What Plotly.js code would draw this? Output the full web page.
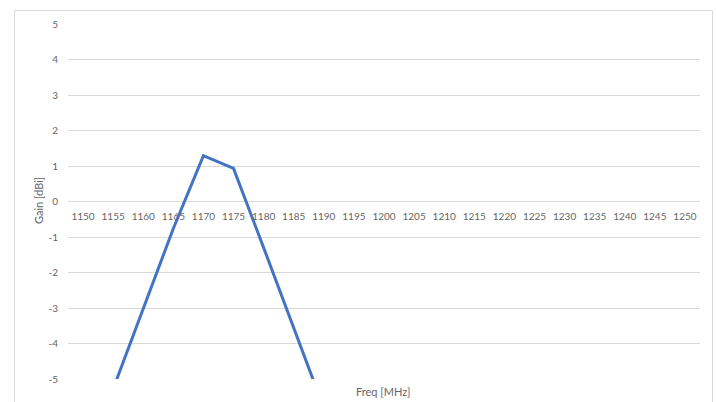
<!DOCTYPE html>
<html>
<head>
<meta charset="utf-8">
<script src="https://cdn.plot.ly/plotly-3.0.1.min.js"></script>
<style>
  html, body { margin: 0; padding: 0; background: #ffffff; }
  #chart { width: 717px; height: 402px; }
</style>
</head>
<body>
<div id="chart"></div>
<script>
// Category tick labels (MHz)
const tickFreqs = [1150, 1155, 1160, 1165, 1170, 1175, 1180, 1185, 1190, 1195, 1200,
                   1205, 1210, 1215, 1220, 1225, 1230, 1235, 1240, 1245, 1250];
// Series: gain [dBi] vs frequency
const freq = [1155, 1160, 1165, 1170, 1175, 1180, 1185, 1190];
const gain = [-5.28, -3.0, -0.76, 1.29, 0.93, -1.3, -3.56, -5.82];
const yTicks = [-5, -4, -3, -2, -1, 0, 1, 2, 3, 4, 5];

const W = 717, H = 402;
const L = 68, R = 17, T = 24, B = 23;
const pw = W - L - R, ph = H - T - B;

const fontFam = 'Lato, "Open Sans", "Liberation Sans", sans-serif';
const grey = '#666666';
const grid = '#d9d9d9';

const trace = {
  x: freq,
  y: gain,
  type: 'scatter',
  mode: 'lines',
  line: { color: '#4472C4', width: 3 },
  hoverinfo: 'x+y',
  showlegend: false
};

const layout = {
  width: W,
  height: H,
  margin: { l: L, r: R, t: T, b: B, pad: 0 },
  paper_bgcolor: '#ffffff',
  plot_bgcolor: '#ffffff',
  font: { family: fontFam, size: 10, color: grey },
  xaxis: {
    range: [1147.5, 1252.5],
    tickvals: tickFreqs,
    ticktext: tickFreqs.map(String),
    showgrid: false,
    zeroline: false,
    showline: false,
    ticks: '',
    anchor: 'free',
    position: 0.5,
    ticklabelstandoff: 7,
    tickfont: { family: fontFam, size: 10, color: grey },
    fixedrange: true
  },
  yaxis: {
    range: [-5, 5],
    tickvals: yTicks,
    ticktext: yTicks.map(String),
    showgrid: true,
    gridcolor: grid,
    gridwidth: 1,
    zeroline: false,
    showline: false,
    ticks: '',
    ticklabelstandoff: 9,
    tickfont: { family: fontFam, size: 10, color: grey },
    fixedrange: true
  },
  shapes: [{
    type: 'rect',
    xref: 'paper', yref: 'paper',
    x0: (14.5 - L) / pw, x1: (712.5 - L) / pw,
    y0: (T + ph - 410) / ph, y1: (T + ph - 10.5) / ph,
    line: { color: '#d9d9d9', width: 1 },
    fillcolor: 'rgba(0,0,0,0)',
    layer: 'below'
  }],
  annotations: [
    {
      text: 'Freq [MHz]',
      xref: 'paper', yref: 'paper',
      x: (383 - L) / pw, y: (T + ph - 391) / ph,
      xanchor: 'center', yanchor: 'middle',
      showarrow: false,
      font: { family: fontFam, size: 11, color: grey }
    },
    {
      text: 'Gain [dBi]',
      xref: 'paper', yref: 'paper',
      x: (38 - L) / pw, y: (T + ph - 201) / ph,
      xanchor: 'center', yanchor: 'middle',
      textangle: -90,
      showarrow: false,
      font: { family: fontFam, size: 11, color: grey }
    }
  ]
};

Plotly.newPlot('chart', [trace], layout, { displayModeBar: false, staticPlot: true });
</script>
</body>
</html>
